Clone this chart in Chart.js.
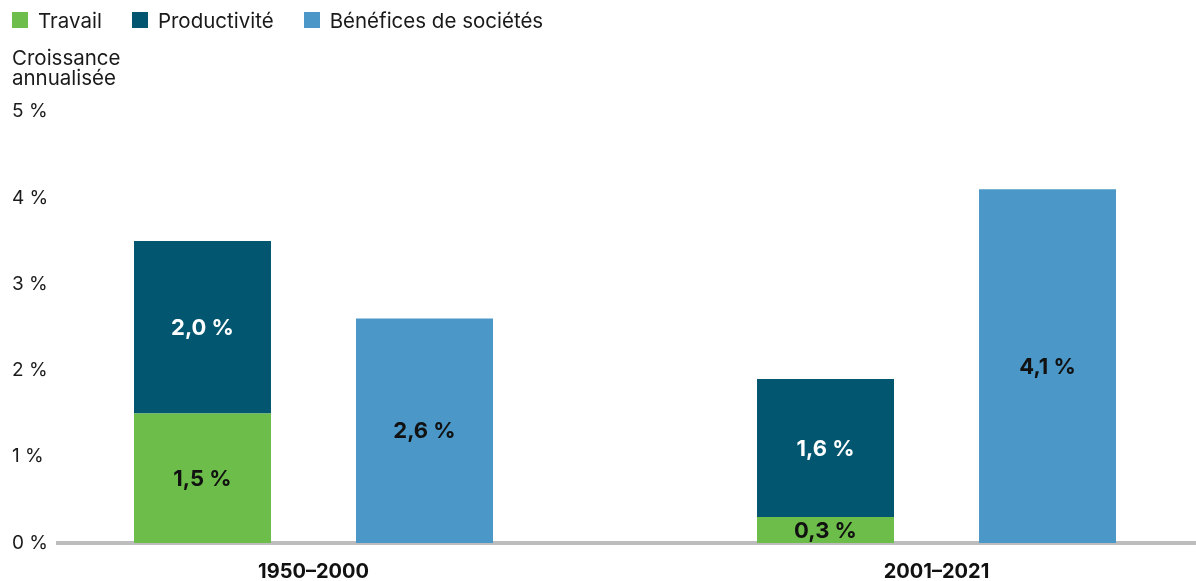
<!DOCTYPE html>
<html lang="fr">
<head>
<meta charset="utf-8">
<title>Croissance annualisée</title>
<style>
  html, body { margin: 0; padding: 0; background: #fff; overflow: hidden; }
  #wrap { position: relative; width: 1196px; height: 581px; }
  #legend { position: absolute; left: 12px; top: 12px; display: flex; font: 20.5px Inter, "Open Sans", sans-serif; color: #1a1a1a; }
  #legend .item { display: flex; align-items: center; height: 16px; margin-right: 30px; }
  #legend .box { width: 16px; height: 16px; margin-right: 10px; }
  canvas { display: block; }
</style>
<script src="https://cdn.jsdelivr.net/npm/chart.js@4.4.1/dist/chart.umd.min.js"></script>
</head>
<body>
<div id="wrap">
  <div id="legend"></div>
  <canvas id="chart" width="1196" height="581"></canvas>
</div>
<script>
const categories = ['1950–2000', '2001–2021'];
const travail = [1.5, 0.3];
const productivite = [2.0, 1.6];
const benefices = [2.6, 4.1];
const yTicks = [0, 1, 2, 3, 4, 5];

const FONT = 'Inter, "Open Sans", sans-serif';
const fmt = v => v.toFixed(1).replace('.', ',') + ' %';

// valeurs au centre de chaque barre
const barLabels = {
    id: 'barLabels',
    afterDatasetsDraw(chart) {
        const ctx = chart.ctx;
        ctx.save();
        ctx.font = 'bold 22px ' + FONT;
        ctx.textAlign = 'center';
        ctx.textBaseline = 'middle';
        chart.data.datasets.forEach((ds, i) => {
            chart.getDatasetMeta(i).data.forEach((bar, j) => {
                const {x, y, base} = bar.getProps(['x', 'y', 'base'], true);
                ctx.fillStyle = ds.labelColor;
                ctx.fillText(fmt(ds.data[j].y), x, (y + base) / 2 + 1);
            });
        });
        ctx.restore();
    }
};

const chart = new Chart(document.getElementById('chart'), {
    type: 'bar',
    data: {
        datasets: [{
            label: 'Travail',
            data: travail.map((v, i) => ({x: i, y: v})),
            backgroundColor: '#6cbd4a',
            stack: 'a',
            labelColor: '#111',
        }, {
            label: 'Productivité',
            data: productivite.map((v, i) => ({x: i, y: v})),
            backgroundColor: '#03566f',
            stack: 'a',
            labelColor: '#fff',
        }, {
            label: 'Bénéfices de sociétés',
            data: benefices.map((v, i) => ({x: i, y: v})),
            backgroundColor: '#4a97c8',
            stack: 'b',
            labelColor: '#111',
        }]
    },
    options: {
        responsive: false,
        animation: false,
        events: [],
        categoryPercentage: 0.7127,
        barPercentage: 0.617,
        layout: {
            padding: {left: 12, top: 40, right: 0, bottom: 0}
        },
        scales: {
            x: {
                type: 'linear',
                stacked: true,
                offset: false,
                min: -0.4101,
                max: 1.4165,
                z: 1,
                afterBuildTicks: s => { s.ticks = categories.map((c, i) => ({value: i})); },
                afterFit: s => { s.height = 38; },
                grid: {display: false, drawTicks: false},
                border: {color: '#bdbdbd', width: 4},
                ticks: {
                    callback: v => categories[v],
                    padding: 17,
                    color: '#111',
                    font: {family: FONT, size: 20, weight: 'bold'}
                }
            },
            y: {
                stacked: true,
                min: 0,
                max: 5,
                afterBuildTicks: s => { s.ticks = yTicks.map(v => ({value: v})); },
                afterFit: s => { s.width = 46; },
                grid: {display: false, drawTicks: false},
                border: {display: false},
                ticks: {
                    callback: v => v + ' %',
                    crossAlign: 'far',
                    color: '#1a1a1a',
                    font: {family: FONT, size: 19}
                }
            }
        },
        plugins: {
            legend: {display: false},
            tooltip: {enabled: false},
            title: {
                display: true,
                text: ['Croissance', 'annualisée'],
                align: 'start',
                color: '#1a1a1a',
                font: {family: FONT, size: 20.5, weight: 'normal', lineHeight: 1},
                padding: {top: 8.5, bottom: 22}
            }
        }
    },
    plugins: [barLabels]
});

// légende en HTML, à partir des jeux de données
const legendEl = document.getElementById('legend');
Chart.defaults.plugins.legend.labels.generateLabels(chart).forEach(item => {
    const el = document.createElement('div');
    el.className = 'item';
    const box = document.createElement('span');
    box.className = 'box';
    box.style.background = item.fillStyle;
    el.appendChild(box);
    el.appendChild(document.createTextNode(item.text));
    legendEl.appendChild(el);
});
</script>
</body>
</html>
